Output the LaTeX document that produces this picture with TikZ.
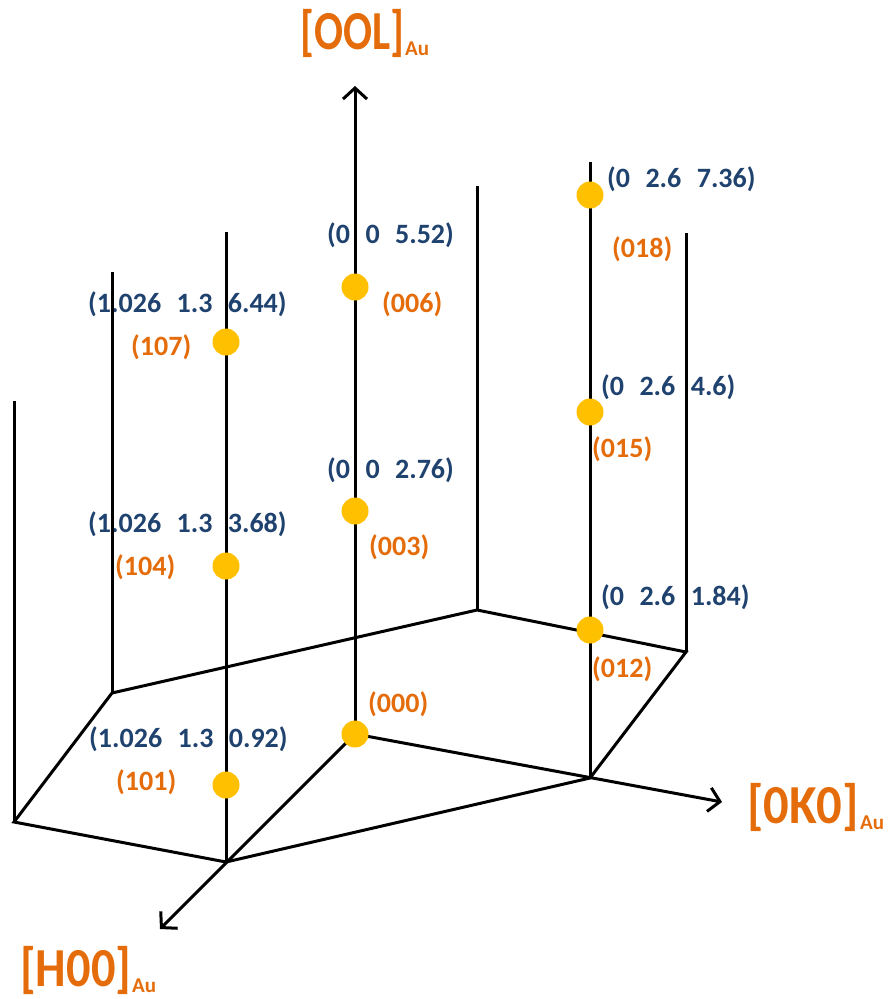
\documentclass[tikz,border=0pt]{standalone}
\usepackage{fontspec}
\setmainfont{Carlito}
\usetikzlibrary{arrows.meta}
\definecolor{ora}{HTML}{E46C0A}
\definecolor{blu}{HTML}{1F426F}
\definecolor{dotc}{HTML}{FFC000}
\newcommand{\gp}{\hspace{0.55em}}
\newcommand{\biglab}[2][0.8]{\scalebox{#1}[1]{\fontsize{55}{60}\selectfont\bfseries #2}\hspace{1pt}\raisebox{-6pt}{\fontsize{21}{22}\selectfont\bfseries Au}}
\begin{document}
\begin{tikzpicture}[x=1pt,y=-1pt,
  edge/.style={line width=3pt, black},
  axisline/.style={line width=3pt, black, -{Straight Barb[length=11pt,width=24pt,line width=3pt]}},
  dotnode/.style={circle, fill=dotc, minimum size=27pt, inner sep=0pt},
  coordlab/.style={text=blu, font=\fontsize{28}{30}\selectfont\bfseries, anchor=base west, inner sep=0pt},
  millab/.style={text=ora, font=\fontsize{28}{30}\selectfont\bfseries, anchor=base west, inner sep=0pt},
  axlab/.style={text=ora, anchor=base west, inner sep=0pt}]
\useasboundingbox (0,0) rectangle (887,999);
% base vertices
\coordinate (o) at (355,734);
\coordinate (lf) at (14,822);
\coordinate (fr) at (226,862);
\coordinate (rf) at (590,778);
\coordinate (rr) at (686,652);
\coordinate (br) at (477,610);
\coordinate (bl) at (112,693);
% tops
\coordinate (lft) at (14,401);
\coordinate (frt) at (226,232);
\coordinate (rft) at (590,162);
\coordinate (rrt) at (686,233);
\coordinate (brt) at (477,186);
\coordinate (blt) at (112,272);
% axis tips
\coordinate (ltip) at (355,86);
\coordinate (ktip) at (722,802);
\coordinate (htip) at (160,929);
% labels
\node[coordlab] (c107) at (88,312) {(1.026\gp 1.3\gp 6.44)};
\node[millab] (m107) at (131,355) {(107)};
\node[coordlab] (c104) at (88,532) {(1.026\gp 1.3\gp 3.68)};
\node[millab] (m104) at (115,575) {(104)};
\node[coordlab] (c101) at (89,747) {(1.026\gp 1.3\gp 0.92)};
\node[millab] (m101) at (116,790) {(101)};
\node[millab] (m000) at (368,712) {(000)};
\node[coordlab] (c006) at (327,243) {(0\gp 0\gp 5.52)};
\node[millab] (m006) at (382,312) {(006)};
\node[coordlab] (c003) at (327,478) {(0\gp 0\gp 2.76)};
\node[millab] (m003) at (369,555) {(003)};
\node[coordlab] (c018) at (607,187) {(0\gp 2.6\gp 7.36)};
\node[millab] (m018) at (612,257) {(018)};
\node[coordlab] (c015) at (601,395) {(0\gp 2.6\gp 4.6)};
\node[millab] (m015) at (592,457) {(015)};
\node[coordlab] (c012) at (601,605) {(0\gp 2.6\gp 1.84)};
\node[millab] (m012) at (592,677) {(012)};
\node[axlab] (lax) at (300,49) {\biglab[0.78]{[OOL]}};
\node[axlab] (kax) at (747,823) {\biglab[0.92]{[0K0]}};
\node[axlab] (hax) at (20,986) {\biglab[0.88]{[H00]}};
% verticals
\draw[edge] (lf) -- (lft);
\draw[edge] (bl) -- (blt);
\draw[edge] (fr) -- (frt);
\draw[edge] (br) -- (brt);
\draw[edge] (rf) -- (rft);
\draw[edge] (rr) -- (rrt);
% hexagon
\draw[edge, line join=miter] (fr) -- (lf) -- (bl) -- (br) -- (rr) -- (rf) -- (fr);
% axes
\draw[axisline] (o) -- (ltip);
\draw[axisline] (o) -- (ktip);
\draw[axisline] (o) -- (htip);
% dots
\node[dotnode] (d000) at (355,734) {};
\node[dotnode] (d003) at (355,511) {};
\node[dotnode] (d006) at (355,287) {};
\node[dotnode] (d101) at (226,785) {};
\node[dotnode] (d104) at (226,566) {};
\node[dotnode] (d107) at (226,342) {};
\node[dotnode] (d012) at (590,630) {};
\node[dotnode] (d015) at (590,412) {};
\node[dotnode] (d018) at (590,195) {};
\end{tikzpicture}
\end{document}
